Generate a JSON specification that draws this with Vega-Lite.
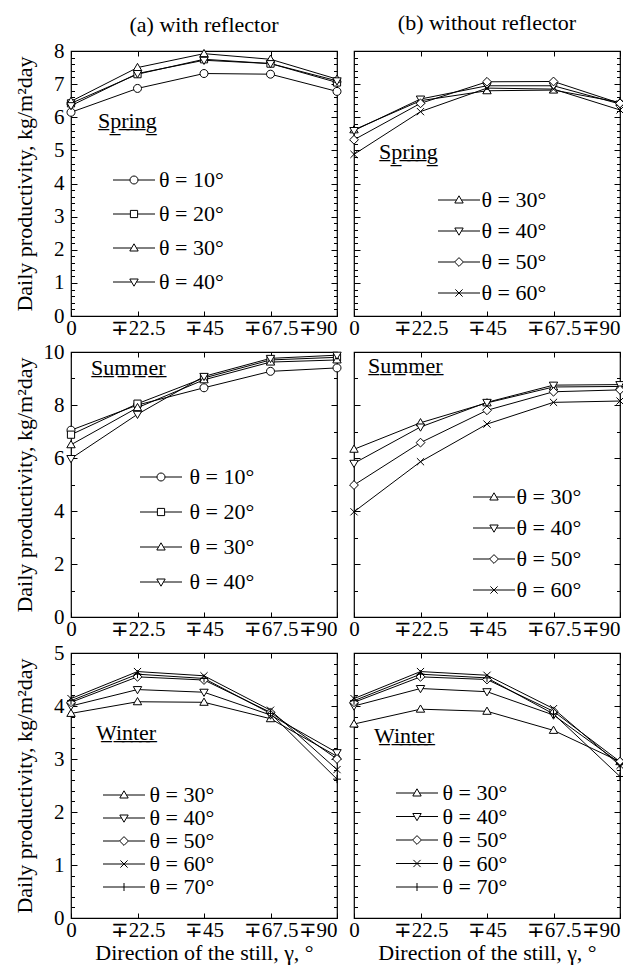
{
  "$schema": "https://vega.github.io/schema/vega-lite/v6.json",
  "background": "white",
  "padding": {"left": 12, "top": 10, "right": 2, "bottom": 2},
  "datasets": {
    "d": [
      {"s":"Spring","r":"a","t":10,"x":0,"y":6.15},{"s":"Spring","r":"a","t":10,"x":22.5,"y":6.87},{"s":"Spring","r":"a","t":10,"x":45,"y":7.32},{"s":"Spring","r":"a","t":10,"x":67.5,"y":7.3},{"s":"Spring","r":"a","t":10,"x":90,"y":6.78},
      {"s":"Spring","r":"a","t":20,"x":0,"y":6.42},{"s":"Spring","r":"a","t":20,"x":22.5,"y":7.3},{"s":"Spring","r":"a","t":20,"x":45,"y":7.75},{"s":"Spring","r":"a","t":20,"x":67.5,"y":7.62},{"s":"Spring","r":"a","t":20,"x":90,"y":7.05},
      {"s":"Spring","r":"a","t":30,"x":0,"y":6.48},{"s":"Spring","r":"a","t":30,"x":22.5,"y":7.5},{"s":"Spring","r":"a","t":30,"x":45,"y":7.92},{"s":"Spring","r":"a","t":30,"x":67.5,"y":7.75},{"s":"Spring","r":"a","t":30,"x":90,"y":7.15},
      {"s":"Spring","r":"a","t":40,"x":0,"y":6.35},{"s":"Spring","r":"a","t":40,"x":22.5,"y":7.32},{"s":"Spring","r":"a","t":40,"x":45,"y":7.72},{"s":"Spring","r":"a","t":40,"x":67.5,"y":7.62},{"s":"Spring","r":"a","t":40,"x":90,"y":7.1},
      {"s":"Spring","r":"b","t":30,"x":0,"y":5.62},{"s":"Spring","r":"b","t":30,"x":22.5,"y":6.5},{"s":"Spring","r":"b","t":30,"x":45,"y":6.8},{"s":"Spring","r":"b","t":30,"x":67.5,"y":6.82},{"s":"Spring","r":"b","t":30,"x":90,"y":6.45},
      {"s":"Spring","r":"b","t":40,"x":0,"y":5.6},{"s":"Spring","r":"b","t":40,"x":22.5,"y":6.55},{"s":"Spring","r":"b","t":40,"x":45,"y":6.95},{"s":"Spring","r":"b","t":40,"x":67.5,"y":6.95},{"s":"Spring","r":"b","t":40,"x":90,"y":6.4},
      {"s":"Spring","r":"b","t":50,"x":0,"y":5.32},{"s":"Spring","r":"b","t":50,"x":22.5,"y":6.42},{"s":"Spring","r":"b","t":50,"x":45,"y":7.07},{"s":"Spring","r":"b","t":50,"x":67.5,"y":7.08},{"s":"Spring","r":"b","t":50,"x":90,"y":6.42},
      {"s":"Spring","r":"b","t":60,"x":0,"y":4.88},{"s":"Spring","r":"b","t":60,"x":22.5,"y":6.17},{"s":"Spring","r":"b","t":60,"x":45,"y":6.88},{"s":"Spring","r":"b","t":60,"x":67.5,"y":6.85},{"s":"Spring","r":"b","t":60,"x":90,"y":6.22},
      {"s":"Summer","r":"a","t":10,"x":0,"y":7.05},{"s":"Summer","r":"a","t":10,"x":22.5,"y":8.0},{"s":"Summer","r":"a","t":10,"x":45,"y":8.65},{"s":"Summer","r":"a","t":10,"x":67.5,"y":9.27},{"s":"Summer","r":"a","t":10,"x":90,"y":9.4},
      {"s":"Summer","r":"a","t":20,"x":0,"y":6.88},{"s":"Summer","r":"a","t":20,"x":22.5,"y":8.05},{"s":"Summer","r":"a","t":20,"x":45,"y":9.02},{"s":"Summer","r":"a","t":20,"x":67.5,"y":9.7},{"s":"Summer","r":"a","t":20,"x":90,"y":9.8},
      {"s":"Summer","r":"a","t":30,"x":0,"y":6.5},{"s":"Summer","r":"a","t":30,"x":22.5,"y":7.9},{"s":"Summer","r":"a","t":30,"x":45,"y":8.95},{"s":"Summer","r":"a","t":30,"x":67.5,"y":9.62},{"s":"Summer","r":"a","t":30,"x":90,"y":9.7},
      {"s":"Summer","r":"a","t":40,"x":0,"y":5.98},{"s":"Summer","r":"a","t":40,"x":22.5,"y":7.65},{"s":"Summer","r":"a","t":40,"x":45,"y":9.08},{"s":"Summer","r":"a","t":40,"x":67.5,"y":9.76},{"s":"Summer","r":"a","t":40,"x":90,"y":9.88},
      {"s":"Summer","r":"b","t":30,"x":0,"y":6.33},{"s":"Summer","r":"b","t":30,"x":22.5,"y":7.33},{"s":"Summer","r":"b","t":30,"x":45,"y":8.08},{"s":"Summer","r":"b","t":30,"x":67.5,"y":8.68},{"s":"Summer","r":"b","t":30,"x":90,"y":8.7},
      {"s":"Summer","r":"b","t":40,"x":0,"y":5.8},{"s":"Summer","r":"b","t":40,"x":22.5,"y":7.17},{"s":"Summer","r":"b","t":40,"x":45,"y":8.1},{"s":"Summer","r":"b","t":40,"x":67.5,"y":8.75},{"s":"Summer","r":"b","t":40,"x":90,"y":8.77},
      {"s":"Summer","r":"b","t":50,"x":0,"y":4.98},{"s":"Summer","r":"b","t":50,"x":22.5,"y":6.58},{"s":"Summer","r":"b","t":50,"x":45,"y":7.8},{"s":"Summer","r":"b","t":50,"x":67.5,"y":8.5},{"s":"Summer","r":"b","t":50,"x":90,"y":8.57},
      {"s":"Summer","r":"b","t":60,"x":0,"y":3.97},{"s":"Summer","r":"b","t":60,"x":22.5,"y":5.86},{"s":"Summer","r":"b","t":60,"x":45,"y":7.28},{"s":"Summer","r":"b","t":60,"x":67.5,"y":8.1},{"s":"Summer","r":"b","t":60,"x":90,"y":8.15},
      {"s":"Winter","r":"a","t":30,"x":0,"y":3.86},{"s":"Winter","r":"a","t":30,"x":22.5,"y":4.08},{"s":"Winter","r":"a","t":30,"x":45,"y":4.07},{"s":"Winter","r":"a","t":30,"x":67.5,"y":3.76},{"s":"Winter","r":"a","t":30,"x":90,"y":3.05},
      {"s":"Winter","r":"a","t":40,"x":0,"y":4.0},{"s":"Winter","r":"a","t":40,"x":22.5,"y":4.31},{"s":"Winter","r":"a","t":40,"x":45,"y":4.26},{"s":"Winter","r":"a","t":40,"x":67.5,"y":3.83},{"s":"Winter","r":"a","t":40,"x":90,"y":3.12},
      {"s":"Winter","r":"a","t":50,"x":0,"y":4.07},{"s":"Winter","r":"a","t":50,"x":22.5,"y":4.55},{"s":"Winter","r":"a","t":50,"x":45,"y":4.49},{"s":"Winter","r":"a","t":50,"x":67.5,"y":3.88},{"s":"Winter","r":"a","t":50,"x":90,"y":3.0},
      {"s":"Winter","r":"a","t":60,"x":0,"y":4.14},{"s":"Winter","r":"a","t":60,"x":22.5,"y":4.65},{"s":"Winter","r":"a","t":60,"x":45,"y":4.57},{"s":"Winter","r":"a","t":60,"x":67.5,"y":3.92},{"s":"Winter","r":"a","t":60,"x":90,"y":2.8},
      {"s":"Winter","r":"a","t":70,"x":0,"y":4.1},{"s":"Winter","r":"a","t":70,"x":22.5,"y":4.6},{"s":"Winter","r":"a","t":70,"x":45,"y":4.52},{"s":"Winter","r":"a","t":70,"x":67.5,"y":3.86},{"s":"Winter","r":"a","t":70,"x":90,"y":2.62},
      {"s":"Winter","r":"b","t":30,"x":0,"y":3.66},{"s":"Winter","r":"b","t":30,"x":22.5,"y":3.94},{"s":"Winter","r":"b","t":30,"x":45,"y":3.9},{"s":"Winter","r":"b","t":30,"x":67.5,"y":3.54},{"s":"Winter","r":"b","t":30,"x":90,"y":2.95},
      {"s":"Winter","r":"b","t":40,"x":0,"y":4.0},{"s":"Winter","r":"b","t":40,"x":22.5,"y":4.33},{"s":"Winter","r":"b","t":40,"x":45,"y":4.27},{"s":"Winter","r":"b","t":40,"x":67.5,"y":3.83},{"s":"Winter","r":"b","t":40,"x":90,"y":2.92},
      {"s":"Winter","r":"b","t":50,"x":0,"y":4.07},{"s":"Winter","r":"b","t":50,"x":22.5,"y":4.55},{"s":"Winter","r":"b","t":50,"x":45,"y":4.5},{"s":"Winter","r":"b","t":50,"x":67.5,"y":3.9},{"s":"Winter","r":"b","t":50,"x":90,"y":2.95},
      {"s":"Winter","r":"b","t":60,"x":0,"y":4.14},{"s":"Winter","r":"b","t":60,"x":22.5,"y":4.65},{"s":"Winter","r":"b","t":60,"x":45,"y":4.58},{"s":"Winter","r":"b","t":60,"x":67.5,"y":3.95},{"s":"Winter","r":"b","t":60,"x":90,"y":2.88},
      {"s":"Winter","r":"b","t":70,"x":0,"y":4.1},{"s":"Winter","r":"b","t":70,"x":22.5,"y":4.6},{"s":"Winter","r":"b","t":70,"x":45,"y":4.53},{"s":"Winter","r":"b","t":70,"x":67.5,"y":3.85},{"s":"Winter","r":"b","t":70,"x":90,"y":2.67}
    ]
  },
  "columns": 2,
  "spacing": {"row": 36, "column": 17},
  "bounds": "flush",
  "resolve": {"scale": {"shape": "independent", "x": "independent", "y": "independent"}, "legend": {"shape": "independent"}},
  "concat": [
    {
      "width": 266, "height": 265,
      "title": {"text": "(a) with reflector", "anchor": "middle", "frame": "group", "offset": -14, "baseline": "alphabetic"},
      "data": {"name": "d"},
      "transform": [{"filter": "datum.s == 'Spring' && datum.r == 'a'"}],
      "layer": [
        {"mark": {"type": "line", "color": "black", "strokeWidth": 1},
         "encoding": {
           "x": {"field": "x", "type": "quantitative", "scale": {"domain": [0, 90], "nice": false}, "axis": {"orient": "bottom", "values": [0, 22.5, 45, 67.5, 90], "labelExpr": "datum.value == 0 ? '0' : '∓' + datum.value", "labelAlign": {"condition": {"test": "datum.value == 90", "value": "right"}, "value": "center"}, "tickSize": -5, "labelPadding": 6, "labelFlush": false, "labelOverlap": false, "labelFont": "Liberation Serif", "labelFontSize": 21, "title": null}},
           "y": {"field": "y", "type": "quantitative", "scale": {"domain": [0, 8], "nice": false}, "axis": {"orient": "left", "values": [0,1,2,3,4,5,6,7,8], "tickSize": -6, "labelPadding": 13, "labelOverlap": false, "labelFont": "Liberation Serif", "labelFontSize": 21, "title": "Daily productivity, kg/m²day", "titleFont": "Liberation Serif", "titleFontSize": 22, "titleX": -47, "titleAngle": -90, "titleBaseline": "middle", "titleAlign": "center"}},
           "detail": {"field": "t", "type": "nominal"}}},
        {"mark": {"type": "point", "filled": true, "fill": "white", "stroke": "black", "strokeWidth": 1, "size": 64, "opacity": 1},
         "encoding": {
           "x": {"field": "x", "type": "quantitative", "axis": {"orient": "top", "values": [0, 22.5, 45, 67.5, 90], "labels": false, "tickSize": -5, "title": null}},
           "y": {"field": "y", "type": "quantitative", "axis": {"orient": "right", "values": [0,1,2,3,4,5,6,7,8], "labels": false, "tickSize": -6, "title": null}},
           "shape": {"field": "t", "type": "nominal", "legend": null, "scale": {"domain": [10, 20, 30, 40], "range": ["M1,0A1,1,0,1,1,-1,0A1,1,0,1,1,1,0Z", "M-0.9,-0.9L0.9,-0.9L0.9,0.9L-0.9,0.9Z", "M0,-1.05L1.05,0.75L-1.05,0.75Z", "M0,1.05L1.05,-0.75L-1.05,-0.75Z"]}}}},
        {"transform": [{"filter": "datum.y < -100"}],
         "mark": {"type": "point", "filled": false, "color": "black", "strokeWidth": 1, "size": 64, "opacity": 1},
         "encoding": {
           "x": {"field": "x", "type": "quantitative", "axis": null},
           "y": {"field": "y", "type": "quantitative", "axis": {"orient": "left", "values": [0.2,0.4,0.6,0.8,1.2,1.4,1.6,1.8,2.2,2.4,2.6,2.8,3.2,3.4,3.6,3.8,4.2,4.4,4.6,4.8,5.2,5.4,5.6,5.8,6.2,6.4,6.6,6.8,7.2,7.4,7.6,7.8], "labels": false, "tickSize": -3.5, "title": null}},
           "shape": {"field": "t", "type": "nominal", "scale": {"domain": [10, 20, 30, 40], "range": ["M-5.25,0L-1,0M1,0L5.25,0M1,0A1,1,0,1,1,-1,0A1,1,0,1,1,1,0Z", "M-5.25,0L-0.9,0M0.9,0L5.25,0M-0.9,-0.9L0.9,-0.9L0.9,0.9L-0.9,0.9Z", "M-5.25,0L-0.61,0M0.61,0L5.25,0M0,-1.05L1.05,0.75L-1.05,0.75Z", "M-5.25,0L-0.61,0M0.61,0L5.25,0M0,1.05L1.05,-0.75L-1.05,-0.75Z"]},
             "legend": {"title": "S\u0332p\u0332r\u0332i\u0332n\u0332g\u0332", "legendX": 27, "legendY": 60, "titlePadding": 36, "symbolOffset": 25, "labelOffset": 14, "rowPadding": 12, "labelExpr": "'θ = ' + datum.label + '°'", "labelFont": "Liberation Serif", "titleFont": "Liberation Serif", "symbolStrokeColor": "black", "symbolOpacity": 1, "symbolStrokeWidth": 1}}}},
        {"transform": [{"filter": "datum.y < -100"}],
         "mark": {"type": "point", "opacity": 0},
         "encoding": {
           "x": {"field": "x", "type": "quantitative", "axis": null},
           "y": {"field": "y", "type": "quantitative", "axis": {"orient": "right", "values": [0.2,0.4,0.6,0.8,1.2,1.4,1.6,1.8,2.2,2.4,2.6,2.8,3.2,3.4,3.6,3.8,4.2,4.4,4.6,4.8,5.2,5.4,5.6,5.8,6.2,6.4,6.6,6.8,7.2,7.4,7.6,7.8], "labels": false, "tickSize": -3.5, "title": null}}}}
      ],
      "resolve": {"scale": {"shape": "independent"}, "axis": {"x": "independent", "y": "independent"}}
    },
    {
      "width": 266, "height": 265,
      "title": {"text": "(b) without reflector", "anchor": "middle", "frame": "group", "offset": -1, "baseline": "alphabetic"},
      "data": {"name": "d"},
      "transform": [{"filter": "datum.s == 'Spring' && datum.r == 'b'"}],
      "layer": [
        {"mark": {"type": "line", "color": "black", "strokeWidth": 1},
         "encoding": {
           "x": {"field": "x", "type": "quantitative", "scale": {"domain": [0, 90], "nice": false}, "axis": {"orient": "bottom", "values": [0, 22.5, 45, 67.5, 90], "labelExpr": "datum.value == 0 ? '0' : '∓' + datum.value", "labelAlign": {"condition": {"test": "datum.value == 90", "value": "right"}, "value": "center"}, "tickSize": -5, "labelPadding": 6, "labelFlush": false, "labelOverlap": false, "labelFont": "Liberation Serif", "labelFontSize": 21, "title": null}},
           "y": {"field": "y", "type": "quantitative", "scale": {"domain": [0, 8], "nice": false}, "axis": {"orient": "left", "values": [0,1,2,3,4,5,6,7,8], "tickSize": -6, "labels": false, "title": null}},
           "detail": {"field": "t", "type": "nominal"}}},
        {"mark": {"type": "point", "filled": true, "fill": "white", "stroke": "black", "strokeWidth": 1, "size": 64, "opacity": 1},
         "encoding": {
           "x": {"field": "x", "type": "quantitative", "axis": {"orient": "top", "values": [0, 22.5, 45, 67.5, 90], "labels": false, "tickSize": -5, "title": null}},
           "y": {"field": "y", "type": "quantitative", "axis": {"orient": "right", "values": [0,1,2,3,4,5,6,7,8], "labels": false, "tickSize": -6, "title": null}},
           "shape": {"field": "t", "type": "nominal", "legend": null, "scale": {"domain": [30, 40, 50, 60], "range": ["M0,-1.05L1.05,0.75L-1.05,0.75Z", "M0,1.05L1.05,-0.75L-1.05,-0.75Z", "M0,-1.1L1.1,0L0,1.1L-1.1,0Z", "M-0.9,-0.9L0.9,0.9M-0.9,0.9L0.9,-0.9"]}}}},
        {"transform": [{"filter": "datum.y < -100"}],
         "mark": {"type": "point", "filled": false, "color": "black", "strokeWidth": 1, "size": 64, "opacity": 1},
         "encoding": {
           "x": {"field": "x", "type": "quantitative", "axis": null},
           "y": {"field": "y", "type": "quantitative", "axis": {"orient": "left", "values": [0.2,0.4,0.6,0.8,1.2,1.4,1.6,1.8,2.2,2.4,2.6,2.8,3.2,3.4,3.6,3.8,4.2,4.4,4.6,4.8,5.2,5.4,5.6,5.8,6.2,6.4,6.6,6.8,7.2,7.4,7.6,7.8], "labels": false, "tickSize": -3.5, "title": null}},
           "shape": {"field": "t", "type": "nominal", "scale": {"domain": [30, 40, 50, 60], "range": ["M-5.25,0L-0.61,0M0.61,0L5.25,0M0,-1.05L1.05,0.75L-1.05,0.75Z", "M-5.25,0L-0.61,0M0.61,0L5.25,0M0,1.05L1.05,-0.75L-1.05,-0.75Z", "M-5.25,0L-1.1,0M1.1,0L5.25,0M0,-1.1L1.1,0L0,1.1L-1.1,0Z", "M-5.25,0L5.25,0M-0.9,-0.9L0.9,0.9M-0.9,0.9L0.9,-0.9"]},
             "legend": {"title": "S\u0332p\u0332r\u0332i\u0332n\u0332g\u0332", "legendX": 25, "legendY": 91, "titlePadding": 25, "symbolOffset": 69, "labelOffset": 11.5, "rowPadding": 9, "labelExpr": "'θ = ' + datum.label + '°'", "labelFont": "Liberation Serif", "titleFont": "Liberation Serif", "symbolStrokeColor": "black", "symbolOpacity": 1, "symbolStrokeWidth": 1}}}},
        {"transform": [{"filter": "datum.y < -100"}],
         "mark": {"type": "point", "opacity": 0},
         "encoding": {
           "x": {"field": "x", "type": "quantitative", "axis": null},
           "y": {"field": "y", "type": "quantitative", "axis": {"orient": "right", "values": [0.2,0.4,0.6,0.8,1.2,1.4,1.6,1.8,2.2,2.4,2.6,2.8,3.2,3.4,3.6,3.8,4.2,4.4,4.6,4.8,5.2,5.4,5.6,5.8,6.2,6.4,6.6,6.8,7.2,7.4,7.6,7.8], "labels": false, "tickSize": -3.5, "title": null}}}}
      ],
      "resolve": {"scale": {"shape": "independent"}, "axis": {"x": "independent", "y": "independent"}}
    },
    {
      "width": 266, "height": 265,
      "data": {"name": "d"},
      "transform": [{"filter": "datum.s == 'Summer' && datum.r == 'a'"}],
      "layer": [
        {"mark": {"type": "line", "color": "black", "strokeWidth": 1},
         "encoding": {
           "x": {"field": "x", "type": "quantitative", "scale": {"domain": [0, 90], "nice": false}, "axis": {"orient": "bottom", "values": [0, 22.5, 45, 67.5, 90], "labelExpr": "datum.value == 0 ? '0' : '∓' + datum.value", "labelAlign": {"condition": {"test": "datum.value == 90", "value": "right"}, "value": "center"}, "tickSize": -5, "labelPadding": 6, "labelFlush": false, "labelOverlap": false, "labelFont": "Liberation Serif", "labelFontSize": 21, "title": null}},
           "y": {"field": "y", "type": "quantitative", "scale": {"domain": [0, 10], "nice": false}, "axis": {"orient": "left", "values": [0,2,4,6,8,10], "tickSize": -6, "labelPadding": 13, "labelOverlap": false, "labelFont": "Liberation Serif", "labelFontSize": 21, "title": "Daily productivity, kg/m²day", "titleFont": "Liberation Serif", "titleFontSize": 22, "titleX": -47, "titleAngle": -90, "titleBaseline": "middle", "titleAlign": "center"}},
           "detail": {"field": "t", "type": "nominal"}}},
        {"mark": {"type": "point", "filled": true, "fill": "white", "stroke": "black", "strokeWidth": 1, "size": 64, "opacity": 1},
         "encoding": {
           "x": {"field": "x", "type": "quantitative", "axis": {"orient": "top", "values": [0, 22.5, 45, 67.5, 90], "labels": false, "tickSize": -5, "title": null}},
           "y": {"field": "y", "type": "quantitative", "axis": {"orient": "right", "values": [0,2,4,6,8,10], "labels": false, "tickSize": -6, "title": null}},
           "shape": {"field": "t", "type": "nominal", "legend": null, "scale": {"domain": [10, 20, 30, 40], "range": ["M1,0A1,1,0,1,1,-1,0A1,1,0,1,1,1,0Z", "M-0.9,-0.9L0.9,-0.9L0.9,0.9L-0.9,0.9Z", "M0,-1.05L1.05,0.75L-1.05,0.75Z", "M0,1.05L1.05,-0.75L-1.05,-0.75Z"]}}}},
        {"transform": [{"filter": "datum.y < -100"}],
         "mark": {"type": "point", "filled": false, "color": "black", "strokeWidth": 1, "size": 64, "opacity": 1},
         "encoding": {
           "x": {"field": "x", "type": "quantitative", "axis": null},
           "y": {"field": "y", "type": "quantitative", "axis": {"orient": "left", "values": [1,3,5,7,9], "labels": false, "tickSize": -3.5, "title": null}},
           "shape": {"field": "t", "type": "nominal", "scale": {"domain": [10, 20, 30, 40], "range": ["M-5.25,0L-1,0M1,0L5.25,0M1,0A1,1,0,1,1,-1,0A1,1,0,1,1,1,0Z", "M-5.25,0L-0.9,0M0.9,0L5.25,0M-0.9,-0.9L0.9,-0.9L0.9,0.9L-0.9,0.9Z", "M-5.25,0L-0.61,0M0.61,0L5.25,0M0,-1.05L1.05,0.75L-1.05,0.75Z", "M-5.25,0L-0.61,0M0.61,0L5.25,0M0,1.05L1.05,-0.75L-1.05,-0.75Z"]},
             "legend": {"title": "S\u0332u\u0332m\u0332m\u0332e\u0332r\u0332", "legendX": 20, "legendY": 6, "titlePadding": 86, "symbolOffset": 59, "labelOffset": 17.5, "rowPadding": 13, "labelExpr": "'θ = ' + datum.label + '°'", "labelFont": "Liberation Serif", "titleFont": "Liberation Serif", "symbolStrokeColor": "black", "symbolOpacity": 1, "symbolStrokeWidth": 1}}}},
        {"transform": [{"filter": "datum.y < -100"}],
         "mark": {"type": "point", "opacity": 0},
         "encoding": {
           "x": {"field": "x", "type": "quantitative", "axis": null},
           "y": {"field": "y", "type": "quantitative", "axis": {"orient": "right", "values": [1,3,5,7,9], "labels": false, "tickSize": -3.5, "title": null}}}}
      ],
      "resolve": {"scale": {"shape": "independent"}, "axis": {"x": "independent", "y": "independent"}}
    },
    {
      "width": 266, "height": 265,
      "data": {"name": "d"},
      "transform": [{"filter": "datum.s == 'Summer' && datum.r == 'b'"}],
      "layer": [
        {"mark": {"type": "line", "color": "black", "strokeWidth": 1},
         "encoding": {
           "x": {"field": "x", "type": "quantitative", "scale": {"domain": [0, 90], "nice": false}, "axis": {"orient": "bottom", "values": [0, 22.5, 45, 67.5, 90], "labelExpr": "datum.value == 0 ? '0' : '∓' + datum.value", "labelAlign": {"condition": {"test": "datum.value == 90", "value": "right"}, "value": "center"}, "tickSize": -5, "labelPadding": 6, "labelFlush": false, "labelOverlap": false, "labelFont": "Liberation Serif", "labelFontSize": 21, "title": null}},
           "y": {"field": "y", "type": "quantitative", "scale": {"domain": [0, 10], "nice": false}, "axis": {"orient": "left", "values": [0,2,4,6,8,10], "tickSize": -6, "labels": false, "title": null}},
           "detail": {"field": "t", "type": "nominal"}}},
        {"mark": {"type": "point", "filled": true, "fill": "white", "stroke": "black", "strokeWidth": 1, "size": 64, "opacity": 1},
         "encoding": {
           "x": {"field": "x", "type": "quantitative", "axis": {"orient": "top", "values": [0, 22.5, 45, 67.5, 90], "labels": false, "tickSize": -5, "title": null}},
           "y": {"field": "y", "type": "quantitative", "axis": {"orient": "right", "values": [0,2,4,6,8,10], "labels": false, "tickSize": -6, "title": null}},
           "shape": {"field": "t", "type": "nominal", "legend": null, "scale": {"domain": [30, 40, 50, 60], "range": ["M0,-1.05L1.05,0.75L-1.05,0.75Z", "M0,1.05L1.05,-0.75L-1.05,-0.75Z", "M0,-1.1L1.1,0L0,1.1L-1.1,0Z", "M-0.9,-0.9L0.9,0.9M-0.9,0.9L0.9,-0.9"]}}}},
        {"transform": [{"filter": "datum.y < -100"}],
         "mark": {"type": "point", "filled": false, "color": "black", "strokeWidth": 1, "size": 64, "opacity": 1},
         "encoding": {
           "x": {"field": "x", "type": "quantitative", "axis": null},
           "y": {"field": "y", "type": "quantitative", "axis": {"orient": "left", "values": [1,3,5,7,9], "labels": false, "tickSize": -3.5, "title": null}},
           "shape": {"field": "t", "type": "nominal", "scale": {"domain": [30, 40, 50, 60], "range": ["M-5.25,0L-0.61,0M0.61,0L5.25,0M0,-1.05L1.05,0.75L-1.05,0.75Z", "M-5.25,0L-0.61,0M0.61,0L5.25,0M0,1.05L1.05,-0.75L-1.05,-0.75Z", "M-5.25,0L-1.1,0M1.1,0L5.25,0M0,-1.1L1.1,0L0,1.1L-1.1,0Z", "M-5.25,0L5.25,0M-0.9,-0.9L0.9,0.9M-0.9,0.9L0.9,-0.9"]},
             "legend": {"title": "S\u0332u\u0332m\u0332m\u0332e\u0332r\u0332", "legendX": 14, "legendY": 4, "titlePadding": 108, "symbolOffset": 115, "labelOffset": 11.5, "rowPadding": 9, "labelExpr": "'θ = ' + datum.label + '°'", "labelFont": "Liberation Serif", "titleFont": "Liberation Serif", "symbolStrokeColor": "black", "symbolOpacity": 1, "symbolStrokeWidth": 1}}}},
        {"transform": [{"filter": "datum.y < -100"}],
         "mark": {"type": "point", "opacity": 0},
         "encoding": {
           "x": {"field": "x", "type": "quantitative", "axis": null},
           "y": {"field": "y", "type": "quantitative", "axis": {"orient": "right", "values": [1,3,5,7,9], "labels": false, "tickSize": -3.5, "title": null}}}}
      ],
      "resolve": {"scale": {"shape": "independent"}, "axis": {"x": "independent", "y": "independent"}}
    },
    {
      "width": 266, "height": 265,
      "data": {"name": "d"},
      "transform": [{"filter": "datum.s == 'Winter' && datum.r == 'a'"}],
      "layer": [
        {"mark": {"type": "line", "color": "black", "strokeWidth": 1},
         "encoding": {
           "x": {"field": "x", "type": "quantitative", "scale": {"domain": [0, 90], "nice": false}, "axis": {"orient": "bottom", "values": [0, 22.5, 45, 67.5, 90], "labelExpr": "datum.value == 0 ? '0' : '∓' + datum.value", "labelAlign": {"condition": {"test": "datum.value == 90", "value": "right"}, "value": "center"}, "tickSize": -5, "labelPadding": 6, "labelFlush": false, "labelOverlap": false, "labelFont": "Liberation Serif", "labelFontSize": 21, "title": "Direction of the still, γ, °", "titleFont": "Liberation Serif", "titleFontSize": 22, "titleY": 41, "titleBaseline": "alphabetic"}},
           "y": {"field": "y", "type": "quantitative", "scale": {"domain": [0, 5], "nice": false}, "axis": {"orient": "left", "values": [0,1,2,3,4,5], "tickSize": -6, "labelPadding": 13, "labelOverlap": false, "labelFont": "Liberation Serif", "labelFontSize": 21, "title": "Daily productivity, kg/m²day", "titleFont": "Liberation Serif", "titleFontSize": 22, "titleX": -47, "titleAngle": -90, "titleBaseline": "middle", "titleAlign": "center"}},
           "detail": {"field": "t", "type": "nominal"}}},
        {"mark": {"type": "point", "filled": true, "fill": "white", "stroke": "black", "strokeWidth": 1, "size": 64, "opacity": 1},
         "encoding": {
           "x": {"field": "x", "type": "quantitative", "axis": {"orient": "top", "values": [0, 22.5, 45, 67.5, 90], "labels": false, "tickSize": -5, "title": null}},
           "y": {"field": "y", "type": "quantitative", "axis": {"orient": "right", "values": [0,1,2,3,4,5], "labels": false, "tickSize": -6, "title": null}},
           "shape": {"field": "t", "type": "nominal", "legend": null, "scale": {"domain": [30, 40, 50, 60, 70], "range": ["M0,-1.05L1.05,0.75L-1.05,0.75Z", "M0,1.05L1.05,-0.75L-1.05,-0.75Z", "M0,-1.1L1.1,0L0,1.1L-1.1,0Z", "M-0.9,-0.9L0.9,0.9M-0.9,0.9L0.9,-0.9", "M-1,0L1,0M0,-1L0,1"]}}}},
        {"transform": [{"filter": "datum.y < -100"}],
         "mark": {"type": "point", "filled": false, "color": "black", "strokeWidth": 1, "size": 64, "opacity": 1},
         "encoding": {
           "x": {"field": "x", "type": "quantitative", "axis": null},
           "y": {"field": "y", "type": "quantitative", "axis": {"orient": "left", "values": [0.2,0.4,0.6,0.8,1.2,1.4,1.6,1.8,2.2,2.4,2.6,2.8,3.2,3.4,3.6,3.8,4.2,4.4,4.6,4.8], "labels": false, "tickSize": -3.5, "title": null}},
           "shape": {"field": "t", "type": "nominal", "scale": {"domain": [30, 40, 50, 60, 70], "range": ["M-5.25,0L-0.61,0M0.61,0L5.25,0M0,-1.05L1.05,0.75L-1.05,0.75Z", "M-5.25,0L-0.61,0M0.61,0L5.25,0M0,1.05L1.05,-0.75L-1.05,-0.75Z", "M-5.25,0L-1.1,0M1.1,0L5.25,0M0,-1.1L1.1,0L0,1.1L-1.1,0Z", "M-5.25,0L5.25,0M-0.9,-0.9L0.9,0.9M-0.9,0.9L0.9,-0.9", "M-5.25,0L5.25,0M0,-1L0,1"]},
             "legend": {"title": "W\u0332i\u0332n\u0332t\u0332e\u0332r\u0332", "legendX": 25, "legendY": 70, "titlePadding": 39, "symbolOffset": 17, "labelOffset": 14.5, "rowPadding": 1, "labelExpr": "'θ = ' + datum.label + '°'", "labelFont": "Liberation Serif", "titleFont": "Liberation Serif", "symbolStrokeColor": "black", "symbolOpacity": 1, "symbolStrokeWidth": 1}}}},
        {"transform": [{"filter": "datum.y < -100"}],
         "mark": {"type": "point", "opacity": 0},
         "encoding": {
           "x": {"field": "x", "type": "quantitative", "axis": null},
           "y": {"field": "y", "type": "quantitative", "axis": {"orient": "right", "values": [0.2,0.4,0.6,0.8,1.2,1.4,1.6,1.8,2.2,2.4,2.6,2.8,3.2,3.4,3.6,3.8,4.2,4.4,4.6,4.8], "labels": false, "tickSize": -3.5, "title": null}}}}
      ],
      "resolve": {"scale": {"shape": "independent"}, "axis": {"x": "independent", "y": "independent"}}
    },
    {
      "width": 266, "height": 265,
      "data": {"name": "d"},
      "transform": [{"filter": "datum.s == 'Winter' && datum.r == 'b'"}],
      "layer": [
        {"mark": {"type": "line", "color": "black", "strokeWidth": 1},
         "encoding": {
           "x": {"field": "x", "type": "quantitative", "scale": {"domain": [0, 90], "nice": false}, "axis": {"orient": "bottom", "values": [0, 22.5, 45, 67.5, 90], "labelExpr": "datum.value == 0 ? '0' : '∓' + datum.value", "labelAlign": {"condition": {"test": "datum.value == 90", "value": "right"}, "value": "center"}, "tickSize": -5, "labelPadding": 6, "labelFlush": false, "labelOverlap": false, "labelFont": "Liberation Serif", "labelFontSize": 21, "title": "Direction of the still, γ, °", "titleFont": "Liberation Serif", "titleFontSize": 22, "titleY": 41, "titleBaseline": "alphabetic"}},
           "y": {"field": "y", "type": "quantitative", "scale": {"domain": [0, 5], "nice": false}, "axis": {"orient": "left", "values": [0,1,2,3,4,5], "tickSize": -6, "labels": false, "title": null}},
           "detail": {"field": "t", "type": "nominal"}}},
        {"mark": {"type": "point", "filled": true, "fill": "white", "stroke": "black", "strokeWidth": 1, "size": 64, "opacity": 1},
         "encoding": {
           "x": {"field": "x", "type": "quantitative", "axis": {"orient": "top", "values": [0, 22.5, 45, 67.5, 90], "labels": false, "tickSize": -5, "title": null}},
           "y": {"field": "y", "type": "quantitative", "axis": {"orient": "right", "values": [0,1,2,3,4,5], "labels": false, "tickSize": -6, "title": null}},
           "shape": {"field": "t", "type": "nominal", "legend": null, "scale": {"domain": [30, 40, 50, 60, 70], "range": ["M0,-1.05L1.05,0.75L-1.05,0.75Z", "M0,1.05L1.05,-0.75L-1.05,-0.75Z", "M0,-1.1L1.1,0L0,1.1L-1.1,0Z", "M-0.9,-0.9L0.9,0.9M-0.9,0.9L0.9,-0.9", "M-1,0L1,0M0,-1L0,1"]}}}},
        {"transform": [{"filter": "datum.y < -100"}],
         "mark": {"type": "point", "filled": false, "color": "black", "strokeWidth": 1, "size": 64, "opacity": 1},
         "encoding": {
           "x": {"field": "x", "type": "quantitative", "axis": null},
           "y": {"field": "y", "type": "quantitative", "axis": {"orient": "left", "values": [0.2,0.4,0.6,0.8,1.2,1.4,1.6,1.8,2.2,2.4,2.6,2.8,3.2,3.4,3.6,3.8,4.2,4.4,4.6,4.8], "labels": false, "tickSize": -3.5, "title": null}},
           "shape": {"field": "t", "type": "nominal", "scale": {"domain": [30, 40, 50, 60, 70], "range": ["M-5.25,0L-0.61,0M0.61,0L5.25,0M0,-1.05L1.05,0.75L-1.05,0.75Z", "M-5.25,0L-0.61,0M0.61,0L5.25,0M0,1.05L1.05,-0.75L-1.05,-0.75Z", "M-5.25,0L-1.1,0M1.1,0L5.25,0M0,-1.1L1.1,0L0,1.1L-1.1,0Z", "M-5.25,0L5.25,0M-0.9,-0.9L0.9,0.9M-0.9,0.9L0.9,-0.9", "M-5.25,0L5.25,0M0,-1L0,1"]},
             "legend": {"title": "W\u0332i\u0332n\u0332t\u0332e\u0332r\u0332", "legendX": 20, "legendY": 73, "titlePadding": 34, "symbolOffset": 32, "labelOffset": 14.5, "rowPadding": 1.5, "labelExpr": "'θ = ' + datum.label + '°'", "labelFont": "Liberation Serif", "titleFont": "Liberation Serif", "symbolStrokeColor": "black", "symbolOpacity": 1, "symbolStrokeWidth": 1}}}},
        {"transform": [{"filter": "datum.y < -100"}],
         "mark": {"type": "point", "opacity": 0},
         "encoding": {
           "x": {"field": "x", "type": "quantitative", "axis": null},
           "y": {"field": "y", "type": "quantitative", "axis": {"orient": "right", "values": [0.2,0.4,0.6,0.8,1.2,1.4,1.6,1.8,2.2,2.4,2.6,2.8,3.2,3.4,3.6,3.8,4.2,4.4,4.6,4.8], "labels": false, "tickSize": -3.5, "title": null}}}}
      ],
      "resolve": {"scale": {"shape": "independent"}, "axis": {"x": "independent", "y": "independent"}}
    }
  ],
  "config": {
    "font": "Liberation Serif",
    "view": {"stroke": "black", "strokeWidth": 1.2},
    "style": {"guide-label": {"font": "Liberation Serif", "fontSize": 21, "fill": "black"}, "guide-title": {"font": "Liberation Serif", "fontSize": 22, "fontWeight": "normal", "fill": "black"}},
    "axis": {"grid": false, "domain": false, "ticks": true, "minExtent": 0, "tickColor": "black", "tickWidth": 1, "labelFont": "Liberation Serif", "labelFontSize": 21, "labelColor": "black", "titleFont": "Liberation Serif", "titleFontSize": 22, "titleFontWeight": "normal", "titleColor": "black"},
    "title": {"font": "Liberation Serif", "fontSize": 22, "fontWeight": "normal", "color": "black"},
    "legend": {"orient": "none", "direction": "vertical", "padding": 0, "symbolSize": 64, "symbolStrokeColor": "black", "symbolStrokeWidth": 1, "symbolOpacity": 1, "labelFont": "Liberation Serif", "labelFontSize": 22, "labelColor": "black", "labelBaseline": "middle", "labelLimit": 300, "titleFont": "Liberation Serif", "titleFontSize": 22, "titleFontWeight": "normal", "titleColor": "black", "titleLimit": 300, "titleBaseline": "top"}
  }
}
